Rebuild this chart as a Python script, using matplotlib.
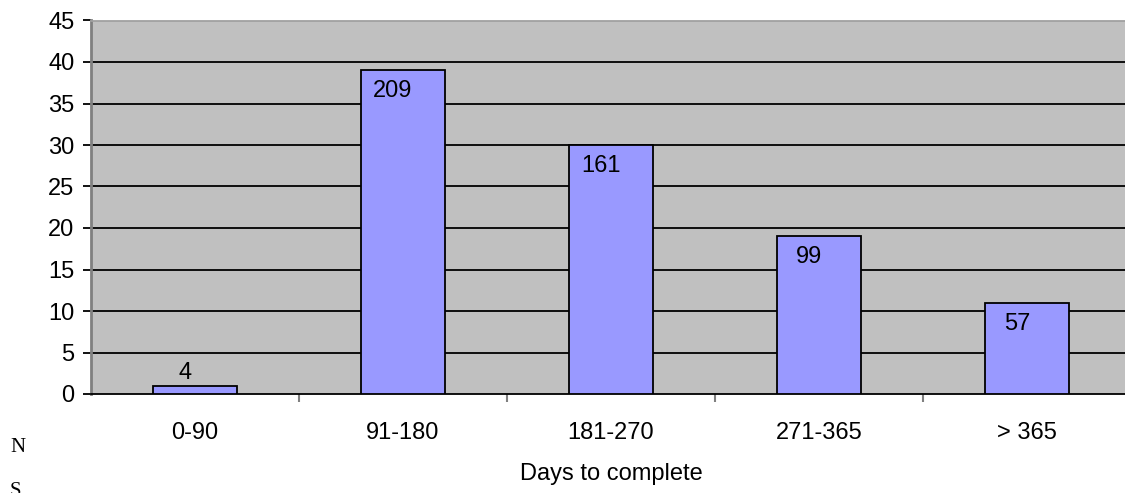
import matplotlib; matplotlib.use("Agg")
import matplotlib.pyplot as plt
import numpy as np

categories = ["0-90", "91-180", "181-270", "271-365", "> 365"]
heights = [1, 39, 30, 19, 11]
counts = [4, 209, 161, 99, 57]

plt.rcParams["font.family"] = ["Liberation Sans", "DejaVu Sans"]
W, H = 1125, 493
FS = 17
fig = plt.figure(figsize=(W/100, H/100), dpi=100)
# plot area: left 91px, top 20px, bottom 394px, runs past the right edge
ax = fig.add_axes([91/W, (H-394)/H, 1040/W, (394-20.5)/H])
ax.set_facecolor("#C0C0C0")

x = np.arange(len(categories))
ax.bar(x, heights, width=0.4, color="#9999FF", edgecolor="black",
       linewidth=1.3, zorder=3)

for xi, h, c in zip(x, heights, counts):
    dy = 13 if h < 3 else -21
    ax.annotate(str(c), (xi, h), xytext=(-10, dy), textcoords="offset pixels",
                ha="center", va="center", fontsize=FS, zorder=4)

ax.set_xlim(-0.5, 4.5)
ax.set_ylim(0, 45)
ax.set_yticks(range(0, 50, 5))
for yv in range(5, 45, 5):
    ax.axhline(yv, color="black", linewidth=1.3, zorder=1)

ax.set_xticks(x)
ax.set_xticklabels(categories, fontsize=FS)
ax.set_xticks(np.arange(0.5, 4.5, 1), minor=True)
ax.tick_params(axis="x", which="major", length=0, pad=20)
ax.tick_params(axis="x", which="minor", length=6, width=1.5, color="#808080")
ax.tick_params(axis="y", length=6, width=1.3, color="black", labelsize=FS, pad=6)

ax.spines["left"].set_color("#808080")
ax.spines["left"].set_linewidth(2)
ax.spines["bottom"].set_color("black")
ax.spines["bottom"].set_linewidth(1.3)
ax.spines["top"].set_color("#A0A0A0")
ax.spines["top"].set_linewidth(1.3)
ax.spines["right"].set_visible(False)

fig.text(611/W, 1 - 474/H, "Days to complete", ha="center", va="center", fontsize=FS)

# stray text at the left edge, cut off in the original as well
fig.text(10/W, 1 - 447/H, "N", ha="left", va="center", fontsize=15,
         family=["Liberation Serif"])
fig.text(10/W, 1 - 492/H, "S", ha="left", va="center", fontsize=15,
         family=["Liberation Serif"])

fig.savefig("out.png", dpi=100)
